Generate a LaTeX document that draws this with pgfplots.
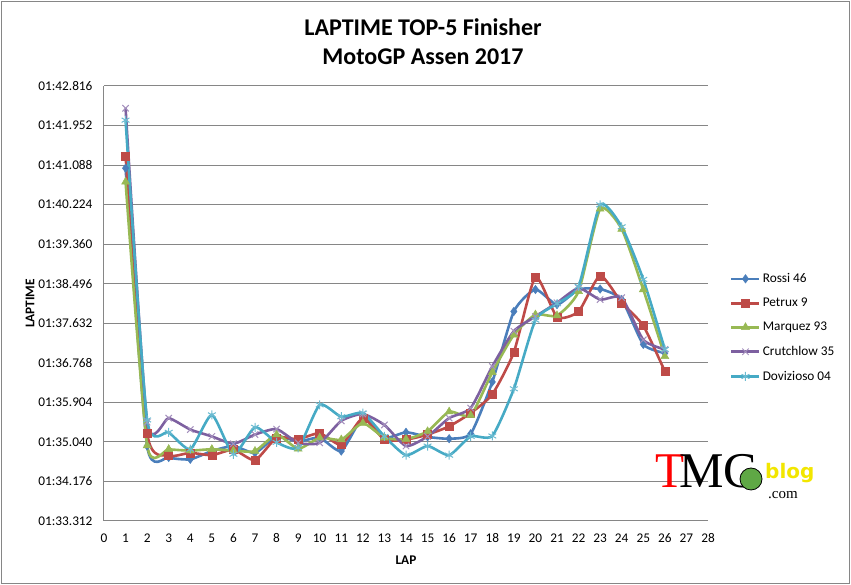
\documentclass[border=0pt]{standalone}
\usepackage{pgfplots}
\pgfplotsset{compat=1.18}
\usepackage{fontspec}
\usepackage{pdfrender}
\setmainfont{Carlito}
\newfontfamily\logoserif{Liberation Serif}
\newfontfamily\logosans{DejaVu Sans}
\definecolor{cblue}{HTML}{4A7EBB}
\definecolor{cred}{HTML}{BE4B48}
\definecolor{cgreen}{HTML}{98B954}
\definecolor{cpurple}{HTML}{7D60A0}
\definecolor{ccyan}{HTML}{46AAC5}
\definecolor{gridgray}{HTML}{868686}
\definecolor{logoyellow}{HTML}{F2E600}
\definecolor{logogreen}{HTML}{5FA845}

\pgfplotstableread{
lap rossi petrux marquez crutchlow dovi
1 101.02 101.29 100.72 102.33 102.07
2 94.95 95.23 94.96 95.47 95.52
3 94.70 94.74 94.88 95.56 95.25
4 94.66 94.80 94.85 95.31 94.88
5 94.84 94.75 94.88 95.16 95.63
6 94.95 94.87 94.85 95.00 94.77
7 94.80 94.64 94.84 95.20 95.36
8 95.16 95.13 95.20 95.32 95.03
9 95.05 95.10 94.89 95.02 94.91
10 95.13 95.23 95.13 95.02 95.85
11 94.84 94.98 95.09 95.50 95.59
12 95.56 95.56 95.45 95.65 95.67
13 95.13 95.09 95.13 95.41 95.16
14 95.25 95.09 95.10 94.95 94.75
15 95.15 95.20 95.27 95.16 94.95
16 95.11 95.38 95.70 95.56 94.75
17 95.22 95.67 95.62 95.78 95.16
18 96.35 96.08 96.56 96.69 95.17
19 97.89 97.00 97.38 97.46 96.20
20 98.37 98.64 97.82 97.78 97.70
21 98.04 97.77 97.80 98.08 98.06
22 98.37 97.89 98.33 98.40 98.44
23 98.38 98.67 100.13 98.15 100.22
24 98.15 98.08 99.69 98.19 99.74
25 97.17 97.58 98.37 97.27 98.59
26 96.98 96.58 96.91 97.06 97.06
}\laps

\begin{document}
\begin{tikzpicture}
\useasboundingbox (0pt,0pt) rectangle (851pt,585pt);
\draw[gridgray, line width=1pt] (1.5pt,1.5pt) rectangle (849.5pt,583.5pt);
\node[font=\fontsize{24}{28}\selectfont\bfseries] at (423pt,558pt) {LAPTIME TOP-5 Finisher};
\node[font=\fontsize{24}{28}\selectfont\bfseries] at (423pt,528pt) {MotoGP Assen 2017};
\begin{axis}[
  at={(104pt,64pt)}, anchor=south west,
  scale only axis, width=604pt, height=435pt,
  xmin=0, xmax=28, ymin=93.312, ymax=102.816,
  axis x line=bottom, axis y line=left,
  axis line style={gridgray, line width=1pt, -},
  xtick={0,1,...,28},
  ytick={93.312,94.176,95.040,95.904,96.768,97.632,98.496,99.360,100.224,101.088,101.952,102.816},
  yticklabels={01:33.312,01:34.176,01:35.040,01:35.904,01:36.768,01:37.632,01:38.496,01:39.360,01:40.224,01:41.088,01:41.952,01:42.816},
  /pgf/number format/assume math mode=true,
  major tick length=0pt,
  ymajorgrids, grid style={gridgray, line width=1pt},
  tick label style={font=\fontsize{13.3}{16}\selectfont},
  yticklabel style={xshift=-8pt},
  xticklabel style={yshift=-9pt},
  xlabel={LAP}, ylabel={LAPTIME},
  label style={font=\fontsize{13.3}{16}\selectfont\bfseries},
  xlabel style={at={(axis description cs:0.5,-0.0897)}, anchor=center},
  ylabel style={at={(axis description cs:-0.1225,0.5)}, anchor=center},
  clip=false,
  legend style={draw=none, fill=none, at={(axis description cs:1.0364,0.574)}, anchor=north west,
    font=\fontsize{13.3}{16}\selectfont, row sep=10pt, inner sep=0pt},
  legend cell align=left,
  legend image code/.code={\draw[mark repeat=2,mark phase=2,#1] plot coordinates {(0pt,0pt) (14pt,0pt) (28pt,0pt)};},
  every axis plot/.append style={smooth, tension=0.35, line width=2.6pt, mark options={solid}},
]
\addplot[cblue, mark=diamond*, mark size=4.2pt, mark options={line width=0.5pt}] table[x=lap,y=rossi]{\laps};
\addlegendentry{Rossi 46}
\addplot[cred, mark=square*, mark size=4pt, mark options={line width=0.5pt}] table[x=lap,y=petrux]{\laps};
\addlegendentry{Petrux 9}
\addplot[cgreen, mark=triangle*, mark size=4.6pt, mark options={line width=0.5pt}] table[x=lap,y=marquez]{\laps};
\addlegendentry{Marquez 93}
\addplot[cpurple, mark=x, mark size=4.5pt, mark options={line width=1pt, draw=cpurple!70!white}] table[x=lap,y=crutchlow]{\laps};
\addlegendentry{Crutchlow 35}
\addplot[ccyan, mark=asterisk, mark size=4.5pt, mark options={line width=1pt, draw=ccyan!80!white}] table[x=lap,y=dovi]{\laps};
\addlegendentry{Dovizioso 04}
\end{axis}
% logo
\node[anchor=base west, inner sep=0pt, text=red, font=\fontsize{50}{50}\selectfont\logoserif, xscale=0.95] at (655pt,97pt) {T};
\node[anchor=base west, inner sep=0pt, text=black, font=\fontsize{50}{50}\selectfont\logoserif] at (679pt,97pt) {MC};
\fill[logogreen] (751pt,106pt) circle (11pt);
\draw[black, line width=0.8pt] (751pt,106pt) circle (11pt);
\node[anchor=base west, inner sep=0pt, text=logoyellow, font=\fontsize{20}{20}\selectfont\logosans\bfseries] at (765pt,106pt)
  {\pdfrender{TextRenderingMode=FillStroke, LineWidth=0.7pt, StrokeColor=black}blog};
\node[anchor=base west, inner sep=0pt, text=black, font=\fontsize{15}{15}\selectfont\logoserif] at (768pt,86pt) {.com};
\end{tikzpicture}
\end{document}
